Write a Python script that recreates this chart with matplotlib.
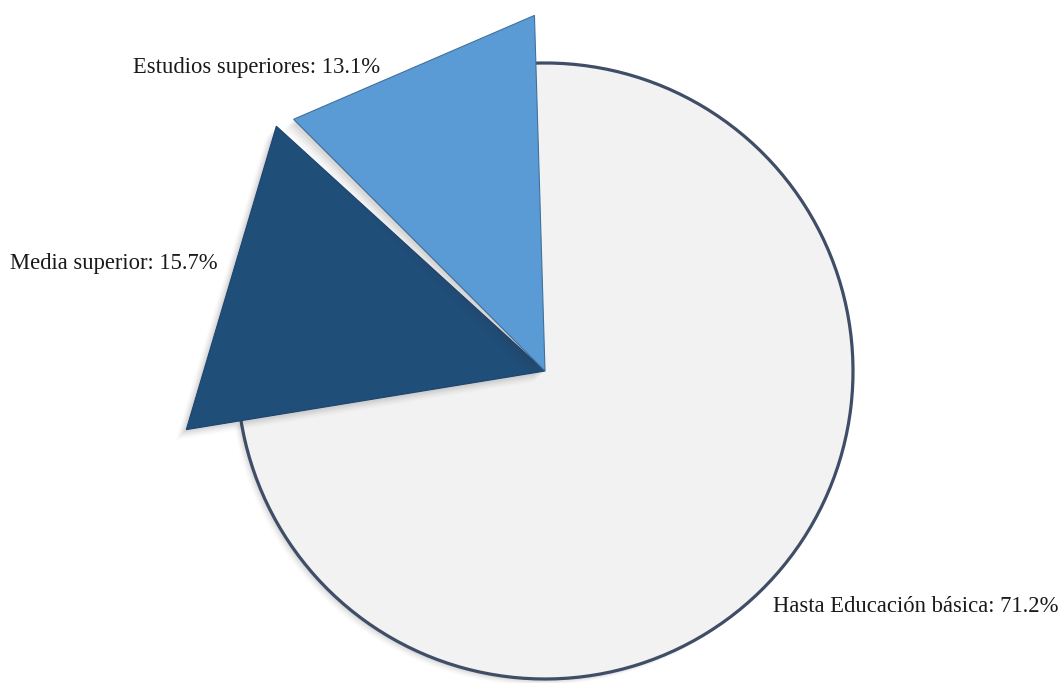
import numpy as np
import matplotlib
matplotlib.use("Agg")
import matplotlib.pyplot as plt
from matplotlib.patches import Polygon, Arc
import matplotlib.patheffects as pe

# ---- data ----
categories = ["Hasta Educación básica", "Media superior", "Estudios superiores"]
values = [71.2, 15.7, 13.1]
labels = [f"{c}: {v}%" for c, v in zip(categories, values)]

# ---- style ----
colors = ["#F2F2F2", "#1F4E79", "#5B9BD5"]
outline = "#3F4E66"

W, H = 1064, 683
cx, cy, R = 545, 371, 308  # pixel layout of pie
fig = plt.figure(figsize=(W / 100, H / 100), dpi=100)
ax = fig.add_axes([0, 0, 1, 1])


def shadow_effects(scale=1.0):
    effs = []
    for o, a in [(1, 0.07), (3, 0.06), (5, 0.05), (7, 0.04), (9, 0.03), (11, 0.02)]:
        effs.append(pe.SimplePatchShadow(offset=(-o * 0.7 * scale, -o * 0.7 * scale),
                                         shadow_rgbFace="#404040", alpha=a))
    effs.append(pe.Normal())
    return effs


wedges, _ = ax.pie(values, colors=colors, startangle=90, counterclock=False,
                   radius=1.0, center=(0, 0), frame=True,
                   wedgeprops=dict(edgecolor="none", linewidth=0))
ax.set_xlim(-cx / R, (W - cx) / R)
ax.set_ylim(-(H - cy) / R, cy / R)
ax.set_aspect("equal")
ax.axis("off")

# big slice: visually extends under the exploded slices (as rendered in the reference)
big = wedges[0]
big.set_theta1(big.theta1 - 4.6)
big.set_theta2(big.theta2 + 1.8)
big.set_path_effects(shadow_effects(0.6))
arc = Arc((0, 0), 2, 2, theta1=big.theta1, theta2=big.theta2,
          color=outline, linewidth=2.3, zorder=3)
ax.add_patch(arc)

# exploded small slices drawn as flat triangles (as in the reference rendering)
spec = {1: (1.18, 0.5, 4.4, "#1B4470"), 2: (1.155, 1.7, 2.2, "#41719C")}
for i, (rr, in1, in2, ec) in spec.items():
    w = wedges[i]
    w.set_visible(False)
    a1 = np.deg2rad(w.theta1 + in1)
    a2 = np.deg2rad(w.theta2 - in2)
    pts = [(0, 0), (rr * np.cos(a1), rr * np.sin(a1)), (rr * np.cos(a2), rr * np.sin(a2))]
    poly = Polygon(pts, closed=True, facecolor=w.get_facecolor(), edgecolor=ec,
                   linewidth=0.8, zorder=4)
    poly.set_path_effects(shadow_effects(1.0))
    ax.add_patch(poly)


def px(x, y):
    return ((x - cx) / R, (cy - y) / R)


font = dict(family=["Liberation Serif", "DejaVu Serif"], fontsize=16.3, color="#1a1a1a")
ax.text(*px(773, 606), labels[0], ha="left", va="center", **font)
ax.text(*px(10, 264), labels[1], ha="left", va="center", **font)
ax.text(*px(133, 67), labels[2], ha="left", va="center", **font)

fig.savefig("out.png", dpi=100, facecolor="white")
